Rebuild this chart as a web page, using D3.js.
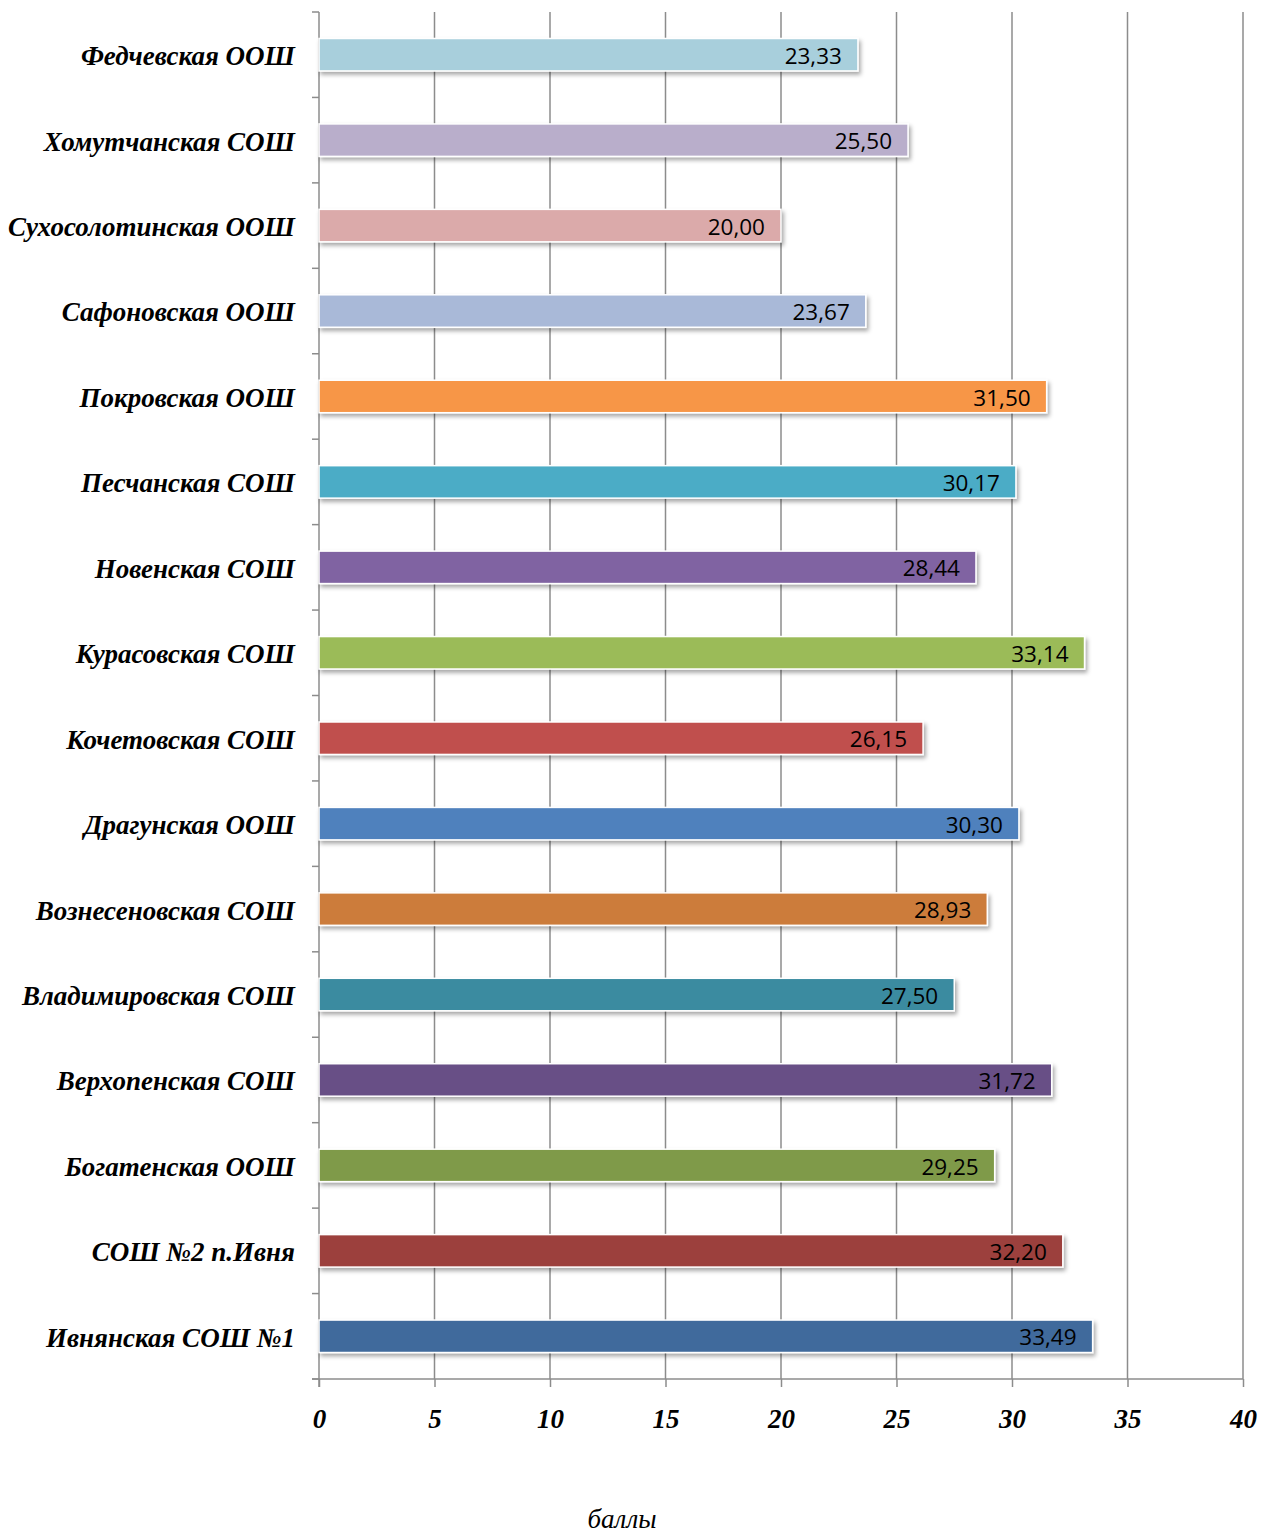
<!DOCTYPE html>
<html>
<head>
<meta charset="utf-8">
<script src="https://cdn.jsdelivr.net/npm/d3@7"></script>
<style>
  body { margin: 0; background: #fff; }
</style>
</head>
<body>
<script>
// schools, top to bottom as in the picture
const schools = [
  'Федчевская ООШ', 'Хомутчанская СОШ', 'Сухосолотинская ООШ', 'Сафоновская ООШ',
  'Покровская ООШ', 'Песчанская СОШ', 'Новенская СОШ', 'Курасовская СОШ',
  'Кочетовская СОШ', 'Драгунская ООШ', 'Вознесеновская СОШ', 'Владимировская СОШ',
  'Верхопенская СОШ', 'Богатенская ООШ', 'СОШ №2 п.Ивня', 'Ивнянская СОШ №1'
]
const scores = [23.33, 25.50, 20.00, 23.67, 31.50, 30.17, 28.44, 33.14,
  26.15, 30.30, 28.93, 27.50, 31.72, 29.25, 32.20, 33.49]
const colors = ['#a8cfdc', '#b9aecb', '#dbaaaa', '#a9b9d8', '#f79646', '#4bacc6', '#8064a2', '#9bbb59',
  '#c0504d', '#4f81bd', '#cc7b3a', '#3a8ba0', '#674f86', '#7f9a48', '#9c3f3c', '#3f6a9c']
const xTicks = [0, 5, 10, 15, 20, 25, 30, 35, 40]
const xTitle = 'баллы'

const m = { width: 1261, height: 1537, left: 319, right: 1243, top: 12, bottom: 1379 }

const svg = d3.select('body').append('svg')
  .attr('width', m.width)
  .attr('height', m.height)

// drop shadow for the bars
const defs = svg.append('defs')
defs.append('filter')
  .attr('id', 'shadow')
  .attr('x', '-5%').attr('y', '-30%').attr('width', '110%').attr('height', '180%')
  .append('feDropShadow')
  .attr('dx', 2).attr('dy', 3).attr('stdDeviation', 2)
  .attr('flood-color', '#000').attr('flood-opacity', 0.35)

const x = d3.scaleLinear().domain([0, 40]).range([m.left, m.right])
const y = d3.scaleBand().domain(schools).range([m.top, m.bottom]).paddingInner(0.62).paddingOuter(0.31)
const band = d3.scaleBand().domain(schools).range([m.top, m.bottom])

// vertical gridlines
svg.append('g')
  .selectAll('line')
  .data(xTicks.slice(1))
  .join('line')
  .attr('x1', d => x(d)).attr('x2', d => x(d))
  .attr('y1', m.top).attr('y2', m.bottom)
  .attr('stroke', '#8c8c8c').attr('stroke-width', 1.5)

// y axis: line plus ticks at band edges
const yEdges = schools.map(s => band(s)).concat([m.bottom])
svg.append('line')
  .attr('x1', m.left).attr('x2', m.left)
  .attr('y1', m.top).attr('y2', m.bottom + 8)
  .attr('stroke', '#8c8c8c').attr('stroke-width', 1.5)
svg.append('g')
  .selectAll('line')
  .data(yEdges)
  .join('line')
  .attr('x1', m.left - 7).attr('x2', m.left)
  .attr('y1', d => d).attr('y2', d => d)
  .attr('stroke', '#8c8c8c').attr('stroke-width', 1.5)

// x axis
const xAxis = d3.axisBottom(x).tickValues(xTicks).tickSize(8).tickPadding(22).tickFormat(d3.format('d'))
const gx = svg.append('g')
  .attr('transform', `translate(0,${m.bottom})`)
  .call(xAxis)
gx.select('.domain').remove()
gx.append('line')
  .attr('x1', m.left - 7).attr('x2', m.right)
  .attr('stroke', '#8c8c8c').attr('stroke-width', 1.5)
gx.selectAll('.tick line').attr('stroke', '#8c8c8c').attr('stroke-width', 1.5)
gx.selectAll('.tick text')
  .attr('fill', '#000')
  .style('font-family', '"Liberation Serif", "Times New Roman", serif')
  .style('font-size', '27px')
  .style('font-weight', 'bold')
  .style('font-style', 'italic')

// bars
const rows = schools.map((s, i) => ({ name: s, value: scores[i], color: colors[i] }))
svg.append('g')
  .selectAll('rect')
  .data(rows)
  .join('rect')
  .attr('x', x(0))
  .attr('y', d => y(d.name))
  .attr('width', d => x(d.value) - x(0))
  .attr('height', y.bandwidth())
  .attr('fill', d => d.color)
  .attr('stroke', '#fff')
  .attr('stroke-width', 1.5)
  .attr('filter', 'url(#shadow)')

// value labels inside the bar ends
const fmt = v => v.toFixed(2).replace('.', ',')
svg.append('g')
  .selectAll('text')
  .data(rows)
  .join('text')
  .attr('x', d => x(d.value) - 16)
  .attr('y', d => y(d.name) + y.bandwidth() / 2 + 1)
  .attr('dy', '0.36em')
  .attr('text-anchor', 'end')
  .style('font-family', '"Open Sans", "Noto Sans", sans-serif')
  .style('font-size', '22.5px')
  .attr('fill', '#000')
  .text(d => fmt(d.value))

// school names
svg.append('g')
  .selectAll('text')
  .data(rows)
  .join('text')
  .attr('x', 295)
  .attr('y', d => band(d.name) + band.bandwidth() / 2 + 1)
  .attr('dy', '0.35em')
  .attr('text-anchor', 'end')
  .style('font-family', '"Liberation Serif", "Times New Roman", serif')
  .style('font-size', '27px')
  .style('font-weight', 'bold')
  .style('font-style', 'italic')
  .text(d => d.name)

// axis title
svg.append('text')
  .attr('x', 622)
  .attr('y', 1528)
  .attr('text-anchor', 'middle')
  .style('font-family', '"Liberation Serif", "Times New Roman", serif')
  .style('font-size', '27px')
  .style('font-style', 'italic')
  .text(xTitle)
</script>
</body>
</html>
